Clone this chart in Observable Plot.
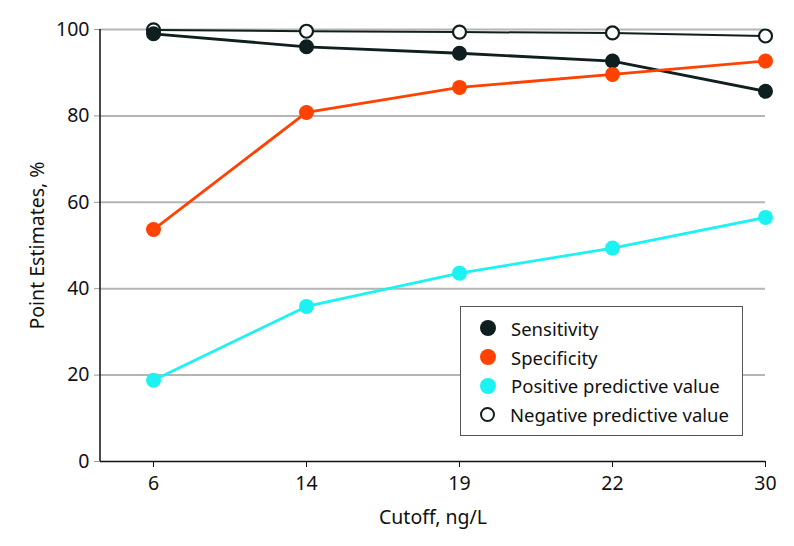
<!DOCTYPE html>
<html>
<head>
<meta charset="utf-8">
<script src="https://cdn.jsdelivr.net/npm/d3@7"></script>
<script src="https://cdn.jsdelivr.net/npm/@observablehq/plot@0.6"></script>
<style>
  html, body { margin: 0; padding: 0; background: #fff; }
  #wrap { position: relative; width: 794px; height: 546px; font-family: "Noto Sans", sans-serif; }
  #legend { position: absolute; left: 460px; top: 306px; width: 283px; height: 130px;
    border: 1.5px solid #555; background: #fff; box-sizing: border-box; padding: 7px 0 0 19px; }
  .item { display: flex; align-items: center; height: 28.7px; font-size: 18.5px; color: #111; }
  .sw { width: 16px; height: 16px; border-radius: 50%; margin-right: 15px; box-sizing: border-box; }
</style>
</head>
<body>
<div id="wrap"></div>
<script>
const cutoffs = ["6", "14", "19", "22", "30"];
const sensitivity = [99.0, 96.0, 94.5, 92.7, 85.7];
const specificity = [53.7, 80.8, 86.6, 89.6, 92.7];
const ppv = [18.8, 35.9, 43.6, 49.4, 56.5];
const npv = [99.9, 99.6, 99.4, 99.2, 98.5];
const yTicks = [0, 20, 40, 60, 80, 100];
const seriesNames = ["Sensitivity", "Specificity", "Positive predictive value", "Negative predictive value"];
const colors = ["#0f1e1e", "#ff4200", "#1cf2f2", "#ffffff"];

const toRows = (vals) => cutoffs.map((c, i) => ({cutoff: c, value: vals[i]}));
const sens = toRows(sensitivity), spec = toRows(specificity), pp = toRows(ppv), np = toRows(npv);

const chart = Plot.plot({
  width: 794,
  height: 546,
  marginLeft: 100,
  marginRight: 29,
  marginTop: 29,
  marginBottom: 85,
  style: {fontFamily: "Noto Sans, sans-serif", fontSize: "19px", color: "#111", background: "#fff"},
  x: {type: "point", domain: cutoffs, range: [153, 765], padding: 0},
  y: {domain: [0, 100], range: [461, 29]},
  marks: [
    Plot.ruleY(yTicks.filter(d => d > 0), {stroke: "#b5b5b5", strokeWidth: 2}),
    Plot.axisY({ticks: yTicks, tickSize: 6, tickPadding: 5, stroke: "#999", fontSize: 19.5,
      label: "Point Estimates, %", labelAnchor: "center", labelOffset: 70, labelArrow: "none", fill: "#111"}),
    Plot.axisX({tickSize: 6, tickPadding: 9, fontSize: 19.5, stroke: "#111",
      label: "Cutoff, ng/L", labelAnchor: "center", labelOffset: 62, labelArrow: "none", fill: "#111"}),
    Plot.ruleY([0], {stroke: "#111", strokeWidth: 1.5}),
    Plot.lineY(np, {x: "cutoff", y: "value", stroke: colors[0], strokeWidth: 2}),
    Plot.dot(np, {x: "cutoff", y: "value", r: 6.5, fill: "#fff", stroke: colors[0], strokeWidth: 2.2}),
    Plot.lineY(sens, {x: "cutoff", y: "value", stroke: colors[0], strokeWidth: 2.8}),
    Plot.dot(sens, {x: "cutoff", y: "value", r: 7.5, fill: colors[0]}),
    Plot.lineY(spec, {x: "cutoff", y: "value", stroke: colors[1], strokeWidth: 2.8}),
    Plot.dot(spec, {x: "cutoff", y: "value", r: 7.5, fill: colors[1]}),
    Plot.lineY(pp, {x: "cutoff", y: "value", stroke: colors[2], strokeWidth: 2.8}),
    Plot.dot(pp, {x: "cutoff", y: "value", r: 7.5, fill: colors[2]})
  ]
});

// left axis line
const svg = d3.select(chart);
svg.append("line").attr("x1", 100).attr("x2", 100).attr("y1", 29).attr("y2", 461)
  .attr("stroke", "#111").attr("stroke-width", 1.5);

const wrap = document.getElementById("wrap");
wrap.appendChild(chart);

const legend = document.createElement("div");
legend.id = "legend";
seriesNames.forEach((name, i) => {
  const item = document.createElement("div");
  item.className = "item";
  const sw = document.createElement("span");
  sw.className = "sw";
  sw.style.background = colors[i];
  if (i === 3) { sw.style.border = "2.5px solid " + colors[0]; sw.style.width = "15px"; sw.style.height = "15px"; }
  const tx = document.createElement("span");
  tx.textContent = name;
  item.appendChild(sw);
  item.appendChild(tx);
  legend.appendChild(item);
});
wrap.appendChild(legend);
</script>
</body>
</html>
